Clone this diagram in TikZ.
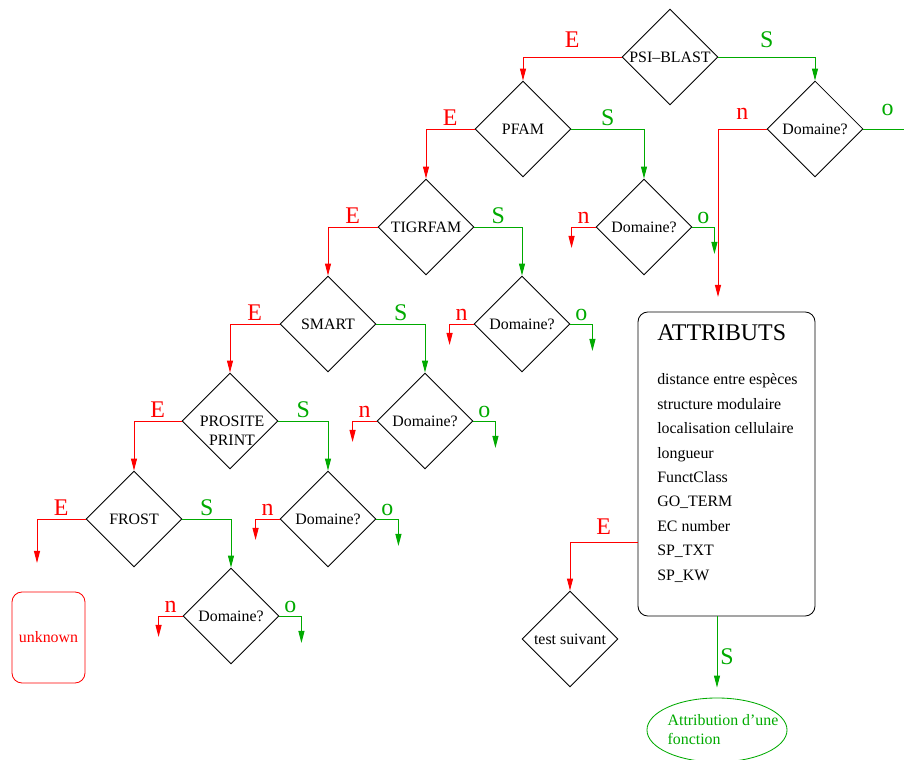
\documentclass[tikz,border=0pt]{standalone}
\usepackage{fontspec}
\setmainfont{Liberation Serif}
\usetikzlibrary{shapes.geometric, arrows.meta, positioning, calc}
\definecolor{ered}{RGB}{255,0,0}
\definecolor{sgreen}{RGB}{0,170,0}
\tikzset{
  %% Test diamond (text does not enlarge it)
  test/.style={
    diamond, draw=black, minimum size=2.4cm,
    inner sep=0pt, line width=0.6pt,
    label={center:#1}
  },
  test/.default={},
  %% Branch labels
  lbl/.style={font=\fontsize{17}{20}\selectfont, inner sep=2pt},
  elbl/.style={lbl, text=ered},
  slbl/.style={lbl, text=sgreen},
  %% Arrows
  earr/.style={-{Triangle[length=3mm,width=1.5mm]},
               draw=ered, line width=0.7pt},
  sarr/.style={-{Triangle[length=3mm,width=1.5mm]},
               draw=sgreen, line width=0.7pt},
}

\begin{document}
\begin{tikzpicture}[x=0.025cm, y=-0.025cm,
    every node/.style={font=\fontsize{11.3}{13.5}\selectfont}]
  \useasboundingbox (0,0) rectangle (904,760);

  %% Test chain
  \node[test=PSI--BLAST] (psi)   at (670,57)  {};
  \node[test=PFAM]       (pfam)  at (523,129) {};
  \node[test=TIGRFAM]    (tigr)  at (426,227) {};
  \node[test=SMART]      (smart) at (328,324) {};
  \node[test]            (prosite) at (230,421) {};
  \node[align=center, inner sep=0pt] (prositetxt) at (232,431) {PROSITE\\PRINT};
  \node[test=FROST]      (frost) at (134,519) {};

  %% Domain checks
  \node[test=Domaine?] (d0) at (815,129) {};
  \node[test=Domaine?] (d1) at (644,227) {};
  \node[test=Domaine?] (d2) at (522,324) {};
  \node[test=Domaine?] (d3) at (425,421) {};
  \node[test=Domaine?] (d4) at (328,519) {};
  \node[test=Domaine?] (d5) at (231,616) {};

  %% Attributes box
  \node[draw, rounded corners=0.25cm, line width=0.6pt,
        minimum width=4.425cm, minimum height=7.6cm] (attr) at (726.5,464) {};
  \node[anchor=base west, inner sep=0pt, font=\fontsize{17}{20}\selectfont]
       (attrhead) at (657,341) {ATTRIBUTS};
  \foreach \t [count=\i from 0] in {distance entre espèces, structure modulaire,
      localisation cellulaire, longueur, FunctClass, GO\_TERM, EC number,
      SP\_TXT, SP\_KW}
    \node[anchor=base west, inner sep=0pt] (item\i) at (657,385+24.4*\i) {\t};

  %% End nodes
  \node[test=test suivant] (tst) at (570,639) {};
  \node[ellipse, draw=sgreen, line width=0.6pt,
        minimum width=3.5cm, minimum height=1.6cm,
        label={[align=left, text=sgreen, xshift=0.15cm]center:Attribution d’une\\fonction}]
       (fnc) at (717,730) {};
  \node[draw=ered, text=ered, rounded corners=0.25cm, line width=0.6pt,
        minimum width=1.825cm, minimum height=2.275cm] (unk) at (48.5,637.5) {unknown};

  %% Free ends
  \coordinate (frostE) at (37,563);
  \coordinate (d0n) at (718,297);
  \coordinate (d0o) at (912,160);
  \foreach \k in {1,...,5} {
    \coordinate (n\k) at ($(d\k.west)+(-24,21)$);
    \coordinate (o\k) at ($(d\k.east)+(22,27)$);
  }

  %% E / S branches
  \draw[earr] (psi.west) -| node[elbl, pos=.25, above, yshift=0.15cm] {E} (pfam.north);
  \draw[sarr] (psi.east) -| node[slbl, pos=.25, above, yshift=0.15cm] {S} (d0.north);
  \draw[earr] (pfam.west) -| node[elbl, pos=.25, above] {E} (tigr.north);
  \draw[sarr] (pfam.east) -| node[slbl, pos=.25, above] {S} (d1.north);
  \draw[earr] (tigr.west) -| node[elbl, pos=.25, above] {E} (smart.north);
  \draw[sarr] (tigr.east) -| node[slbl, pos=.25, above] {S} (d2.north);
  \draw[earr] (smart.west) -| node[elbl, pos=.25, above] {E} (prosite.north);
  \draw[sarr] (smart.east) -| node[slbl, pos=.25, above] {S} (d3.north);
  \draw[earr] (prosite.west) -| node[elbl, pos=.25, above] {E} (frost.north);
  \draw[sarr] (prosite.east) -| node[slbl, pos=.25, above] {S} (d4.north);
  \draw[earr] (frost.west) -| node[elbl, pos=.25, above] {E} (frostE);
  \draw[sarr] (frost.east) -| node[slbl, pos=.25, above] {S} (d5.north);

  %% n / o branches
  \draw[earr] (d0.west) -| node[elbl, pos=.25, above, yshift=0.15cm] {n} (d0n);
  \draw[sarr] (d0.east) -| node[slbl, pos=.25, above, yshift=0.25cm] {o} (d0o);
  \foreach \k in {1,...,5} {
    \draw[earr] (d\k.west) -| node[elbl, pos=.25, above] {n} (n\k);
    \draw[sarr] (d\k.east) -| node[slbl, pos=.25, above] {o} (o\k);
  }

  %% Attributes outcomes
  \draw[earr] ([yshift=-1.95cm]attr.west) -| node[elbl, pos=.25, above, yshift=0.1cm] {E} (tst.north);
  \draw[sarr, shorten >=0.25cm] (attr.south -| fnc.north) -- node[slbl, right] {S} (fnc.north);

\end{tikzpicture}
\end{document}
